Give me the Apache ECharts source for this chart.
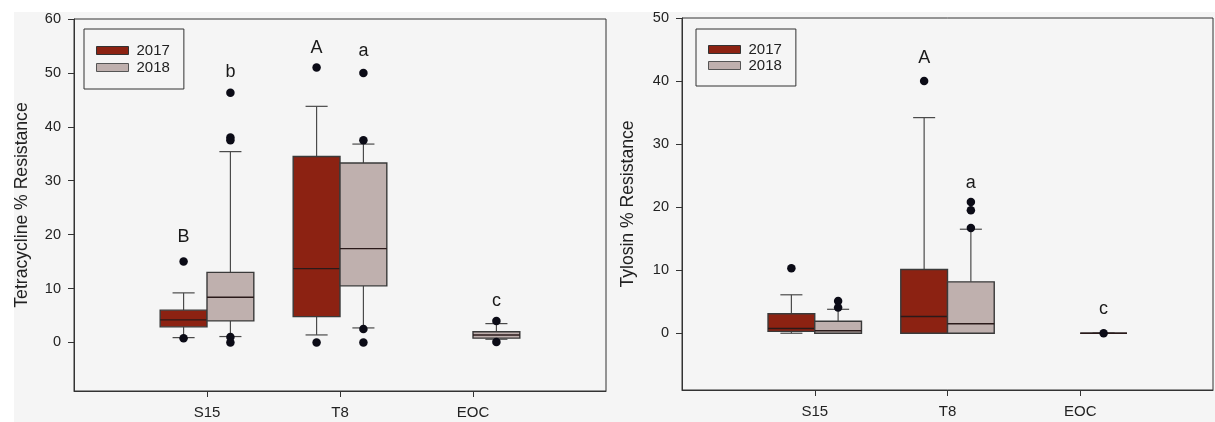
<!DOCTYPE html>
<html>
<head>
<meta charset="utf-8">
<script src="https://cdn.jsdelivr.net/npm/echarts@6/dist/echarts.min.js"></script>
<style>
  html, body { margin: 0; padding: 0; background: #ffffff; }
  #bg { position: absolute; left: 14px; top: 12px; width: 1201px; height: 410px; background: #f5f5f5; }
  #chart { position: absolute; left: 0; top: 0; width: 1215px; height: 422px; }
</style>
</head>
<body>
<div id="bg"></div>
<div id="chart"></div>
<script>
// ---------------- DATA ----------------
const categories = ['S15', 'T8', 'EOC'];
const years = ['2017', '2018'];

// Tetracycline: [min, Q1, median, Q3, max] per category (null = no box)
const tetra2017 = [[0.9, 2.9, 4.2, 6.0, 9.2], [1.4, 4.8, 13.7, 34.5, 43.8], null];
const tetra2018 = [[1.1, 4.0, 8.4, 13.0, 35.4], [2.7, 10.5, 17.4, 33.3, 36.8], [0.6, 0.8, 1.4, 2.0, 3.5]];
const tetraOut2017 = [[15.0, 0.8], [51.0, 0.0], []];
const tetraOut2018 = [[46.3, 38.0, 37.5, 1.0, 0.0], [50.0, 37.5, 2.5, 0.0], [4.0, 0.1]];
const tetraLetters2017 = ['B', 'A', ''];
const tetraLetterY2017 = [19.6, 54.7, null];
const tetraLetters2018 = ['b', 'a', 'c'];
const tetraLetterY2018 = [50.2, 54.0, 7.6];

// Tylosin
const tylo2017 = [[0, 0.3, 0.75, 3.1, 6.1], [0, 0, 2.65, 10.1, 34.2], null];
const tylo2018 = [[0, 0, 0.4, 1.9, 3.8], [0, 0, 1.5, 8.15, 16.5], [0, 0, 0, 0, 0]];
const tyloOut2017 = [[10.3], [40.0], []];
const tyloOut2018 = [[5.1, 4.1], [20.8, 19.5, 16.7], [0.0]];
const tyloLetters2017 = ['', 'A', ''];
const tyloLetterY2017 = [null, 43.6, null];
const tyloLetters2018 = ['', 'a', 'c'];
const tyloLetterY2018 = [null, 23.9, 3.9];

const tetraTicks = [0, 10, 20, 30, 40, 50, 60];
const tyloTicks = [0, 10, 20, 30, 40, 50];
const catTicks = [1, 2, 3];

// ---------------- STYLE ----------------
const FONT = '"Liberation Sans", Arial, Helvetica, sans-serif';
const COL2017 = '#8c2212';
const COL2018 = '#bfb0ae';
const BOX_W = 0.352;   // box width in category units
const CAP_HALF = 0.083;

function boxData(arr) {
  return arr.map((d, i) => d ? [i + 1].concat(d) : null).filter(Boolean);
}
function outData(arr, side) {
  const out = [];
  arr.forEach((vals, i) => vals.forEach(v => out.push([i + 1 + side * BOX_W / 2, v])));
  return out;
}
function letterData(letters, ys, side) {
  const out = [];
  letters.forEach((t, i) => { if (t) out.push([i + 1 + side * BOX_W / 2, ys[i], t]); });
  return out;
}

function makeBoxRender(side, fill) {
  return function (params, api) {
    const x = api.value(0);
    const mn = api.value(1), q1 = api.value(2), md = api.value(3), q3 = api.value(4), mx = api.value(5);
    const x0 = side < 0 ? x - BOX_W : x;
    const x1 = side < 0 ? x : x + BOX_W;
    const xc = (x0 + x1) / 2;
    const pTL = api.coord([x0, q3]);
    const pBR = api.coord([x1, q1]);
    const lineStyle = { stroke: '#4a4a4a', lineWidth: 1.2 };
    const children = [];
    const pQ3 = api.coord([xc, q3]), pMax = api.coord([xc, mx]);
    const pQ1 = api.coord([xc, q1]), pMin = api.coord([xc, mn]);
    const capL1 = api.coord([xc - CAP_HALF, mx]), capR1 = api.coord([xc + CAP_HALF, mx]);
    const capL2 = api.coord([xc - CAP_HALF, mn]), capR2 = api.coord([xc + CAP_HALF, mn]);
    children.push({ type: 'line', shape: { x1: pQ3[0], y1: pQ3[1], x2: pMax[0], y2: pMax[1] }, style: lineStyle });
    children.push({ type: 'line', shape: { x1: capL1[0], y1: capL1[1], x2: capR1[0], y2: capR1[1] }, style: lineStyle });
    children.push({ type: 'line', shape: { x1: pQ1[0], y1: pQ1[1], x2: pMin[0], y2: pMin[1] }, style: lineStyle });
    children.push({ type: 'line', shape: { x1: capL2[0], y1: capL2[1], x2: capR2[0], y2: capR2[1] }, style: lineStyle });
    children.push({
      type: 'rect',
      shape: { x: pTL[0], y: pTL[1], width: pBR[0] - pTL[0], height: pBR[1] - pTL[1] },
      style: { fill: fill, stroke: '#3a3a3a', lineWidth: 1.4 }
    });
    const m0 = api.coord([x0, md]), m1 = api.coord([x1, md]);
    children.push({ type: 'line', shape: { x1: m0[0], y1: m0[1], x2: m1[0], y2: m1[1] }, style: { stroke: '#2a1a1a', lineWidth: 1.4 } });
    return { type: 'group', children: children };
  };
}

function letterRender(params, api) {
  const p = api.coord([api.value(0), api.value(1)]);
  return {
    type: 'text',
    style: {
      text: api.value(2), x: p[0], y: p[1],
      align: 'center', verticalAlign: 'middle',
      font: '18px ' + FONT, fill: '#1a1a1a'
    }
  };
}

function panelSeries(gi, b17, b18, o17, o18, l17, ly17, l18, ly18) {
  return [
    { name: '2017', type: 'custom', xAxisIndex: gi, yAxisIndex: gi, renderItem: makeBoxRender(-1, COL2017),
      itemStyle: { color: COL2017 }, data: boxData(b17), encode: { x: 0, y: [1, 2, 3, 4, 5] }, z: 2 },
    { name: '2018', type: 'custom', xAxisIndex: gi, yAxisIndex: gi, renderItem: makeBoxRender(1, COL2018),
      itemStyle: { color: COL2018 }, data: boxData(b18), encode: { x: 0, y: [1, 2, 3, 4, 5] }, z: 2 },
    { type: 'scatter', xAxisIndex: gi, yAxisIndex: gi, symbolSize: 8.5,
      itemStyle: { color: '#0b0b16', opacity: 1 }, data: outData(o17, -1).concat(outData(o18, 1)), z: 5 },
    { type: 'custom', xAxisIndex: gi, yAxisIndex: gi, renderItem: letterRender,
      data: letterData(l17, ly17, -1).concat(letterData(l18, ly18, 1)), encode: { x: 0, y: 1 }, z: 6 }
  ];
}

function xAxis(gi) {
  return {
    type: 'value', gridIndex: gi, min: 0, max: 4,
    axisLine: { show: true, onZero: false, lineStyle: { color: '#333', width: 1 } },
    axisTick: { show: true, customValues: catTicks, length: 6, lineStyle: { color: '#333' } },
    axisLabel: { customValues: catTicks, formatter: v => categories[v - 1], fontSize: 15, color: '#222', fontFamily: FONT, margin: 14 },
    splitLine: { show: false }
  };
}
function yAxis(gi, max, ticks, name, gap) {
  return {
    type: 'value', gridIndex: gi, min: -9, max: max,
    name: name, nameLocation: 'middle', nameGap: gap, nameRotate: 90,
    nameTextStyle: { fontSize: 17.6, color: '#222', fontFamily: FONT },
    axisLine: { show: true, onZero: false, lineStyle: { color: '#333', width: 1 } },
    axisTick: { show: true, customValues: ticks, length: 6, lineStyle: { color: '#333' } },
    axisLabel: { customValues: ticks, fontSize: 14.5, color: '#222', fontFamily: FONT, margin: 13 },
    splitLine: { show: false }
  };
}
function legend(left, top, padding, gap) {
  return {
    orient: 'vertical', left: left, top: top, padding: padding, itemGap: gap,
    borderColor: '#333', borderWidth: 1, backgroundColor: 'transparent',
    itemWidth: 32, itemHeight: 8, icon: 'rect',
    selectedMode: false,
    textStyle: { fontSize: 15, color: '#222', fontFamily: FONT, padding: [0, 0, 0, 3] },
    data: [
      { name: '2017', itemStyle: { color: COL2017, borderColor: '#333', borderWidth: 1 } },
      { name: '2018', itemStyle: { color: COL2018, borderColor: '#555', borderWidth: 1 } }
    ]
  };
}

const chart = echarts.init(document.getElementById('chart'), null, { renderer: 'canvas' });
chart.setOption({
  animation: false,
  backgroundColor: 'transparent',
  grid: [
    { left: 74, top: 19, width: 532, height: 372, show: true, borderColor: '#333', borderWidth: 1, backgroundColor: 'transparent' },
    { left: 682, top: 18, width: 531, height: 372, show: true, borderColor: '#333', borderWidth: 1, backgroundColor: 'transparent' }
  ],
  xAxis: [xAxis(0), xAxis(1)],
  yAxis: [
    yAxis(0, 60, tetraTicks, 'Tetracycline % Resistance', 43),
    yAxis(1, 50, tyloTicks, 'Tylosin % Resistance', 45)
  ],
  legend: [legend(84, 29, [14, 14, 14, 12], 2), legend(696, 29, [13, 14, 13, 12], 1)],
  series: [].concat(
    panelSeries(0, tetra2017, tetra2018, tetraOut2017, tetraOut2018, tetraLetters2017, tetraLetterY2017, tetraLetters2018, tetraLetterY2018),
    panelSeries(1, tylo2017, tylo2018, tyloOut2017, tyloOut2018, tyloLetters2017, tyloLetterY2017, tyloLetters2018, tyloLetterY2018)
  )
});
</script>
</body>
</html>
